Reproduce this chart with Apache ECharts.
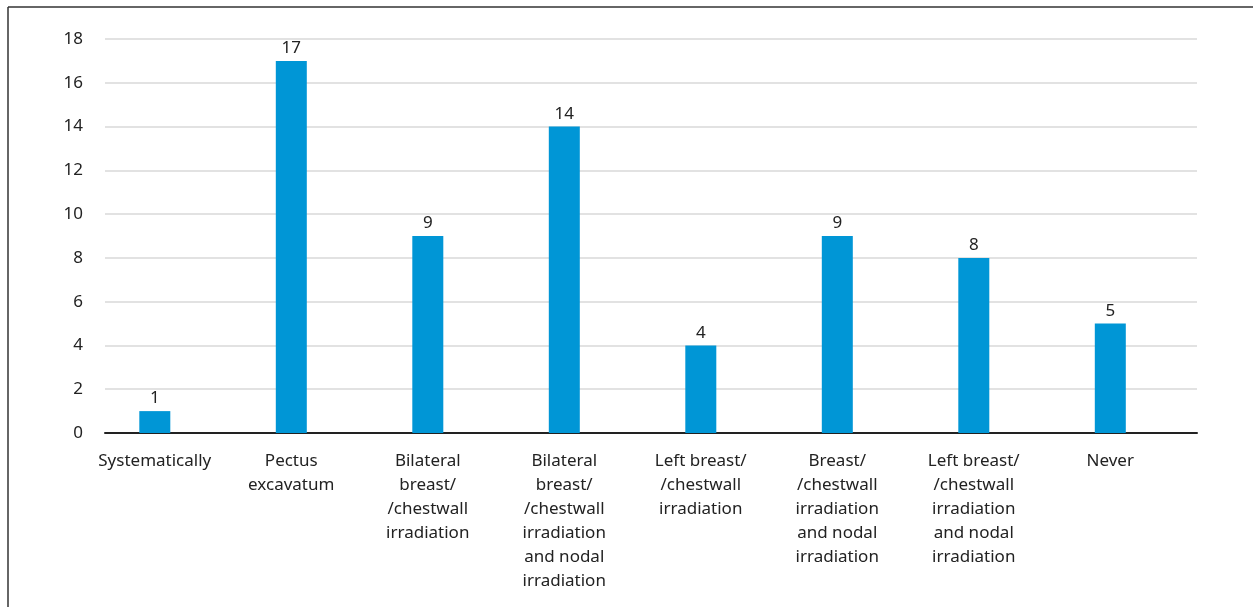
<!DOCTYPE html>
<html><head><meta charset="utf-8">
<script src="https://cdn.jsdelivr.net/npm/echarts@6/dist/echarts.min.js"></script>
<style>html,body{margin:0;padding:0;background:#fff}#c{width:1253px;height:607px}</style>
</head><body><div id="c"></div>
<script>
const categories = [
  "Systematically",
  "Pectus\nexcavatum",
  "Bilateral\nbreast/\n/chestwall\nirradiation",
  "Bilateral\nbreast/\n/chestwall\nirradiation\nand nodal\nirradiation",
  "Left breast/\n/chestwall\nirradiation",
  "Breast/\n/chestwall\nirradiation\nand nodal\nirradiation",
  "Left breast/\n/chestwall\nirradiation\nand nodal\nirradiation",
  "Never"
];
const values = [1, 17, 9, 14, 4, 9, 8, 5];
const emptyValues = [null, null, null, null, null, null, null, null];
const chart = echarts.init(document.getElementById('c'));
const font = '"Noto Sans", "Open Sans", sans-serif';
chart.setOption({
  animation: false,
  grid: {left: 105, right: 56, top: 39, bottom: 174},
  xAxis: {
    type: 'category', data: categories,
    axisLine: {lineStyle: {color: '#222', width: 2}},
    axisTick: {show: false},
    axisLabel: {interval: 0, color: '#222', fontSize: 17, fontFamily: font, lineHeight: 24, margin: 16, padding: [0, 37, 0, 0]}
  },
  yAxis: {
    type: 'value', min: 0, max: 18, interval: 2,
    axisLine: {show: false}, axisTick: {show: false},
    splitLine: {lineStyle: {color: '#d9d9d9', width: 1.5}},
    axisLabel: {color: '#222', fontSize: 17, fontFamily: font, margin: 22}
  },
  series: [{
    type: 'bar', data: values, barWidth: 31, barGap: '19%',
    itemStyle: {color: '#0096d6'},
    label: {show: true, position: 'top', color: '#222', fontSize: 17, fontFamily: font, distance: 4}
  }, {
    type: 'bar', data: emptyValues, barWidth: 31,
    itemStyle: {color: '#0096d6'}
  }],
  graphic: [
    {type: 'line', shape: {x1: 8, y1: 7, x2: 1253, y2: 7}, style: {stroke: '#333', lineWidth: 1.5}},
    {type: 'line', shape: {x1: 8, y1: 7, x2: 8, y2: 607}, style: {stroke: '#333', lineWidth: 1.5}}
  ]
});
</script></body></html>
